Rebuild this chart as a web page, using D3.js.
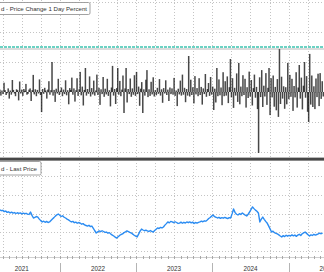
<html>
<head>
<title>Price Change 1 Day Percent / Last Price</title>
<script src="https://d3js.org/d3.v7.min.js"></script>
<style>
body { margin: 0; background: #ffffff; }
svg { display: block; font-family: "Liberation Sans", Arial, sans-serif; }
.grid line { stroke: #c4c4c4; stroke-width: 1; stroke-dasharray: 1,2; }
</style>
</head>
<body>
<svg id="chart" width="324" height="272"></svg>
<script>

// daily % change, sampled every 5 days
const changeStart = new Date(2021, 2, 18);
const changeStepDays = 5;
const changeValues = [
  0.08, -0.12, 0.05, -0.07, 0.31, 0.06, -0.10, -0.04, 0.12, -0.22,
  0.05, -0.09, 0.40, 0.07, -0.05, -0.14, 0.09, 0.06, -0.28, 0.35,
  -0.05, 0.08, -0.13, 0.10, 0.04, 0.27, -0.09, -0.06, 0.08, 0.12,
  -0.30, 0.06, 0.57, -0.08, 0.09, -0.14, 0.07, -0.05, 0.42, -0.10,
  -0.67, 0.10, -0.06, 0.14, 0.05, -0.22, 0.08, 0.36, -0.09, 0.06,
  1.00, -0.12, 0.07, -0.33, 0.11, -0.05, 0.44, -0.10, 0.04, 0.15,
  -0.14, 0.08, -0.07, 0.39, -0.11, 0.06, -0.41, 0.13, 0.07, 0.48,
  -0.09, 0.12, -0.32, 0.06, 0.46, -0.13, 0.09, 0.67, -0.11, 0.18,
  -0.45, 0.07, 0.80, -0.12, 0.10, -0.06, 0.52, -0.15, 0.13, -0.08,
  0.38, -0.12, 0.05, 0.58, -0.10, 0.14, -0.43, 0.09, -0.07, 0.50,
  -0.16, 0.11, -0.08, 0.44, -0.13, 0.06, -0.48, 0.15, 0.87, -0.12,
  0.10, -0.40, 0.13, 0.80, -0.09, 0.37, -0.14, 0.08, 0.55, -0.70,
  0.12, 0.80, -0.35, 0.10, -0.07, 0.45, -0.16, 0.12, -0.09, 0.56,
  -0.13, 0.67, -0.07, 0.18, -0.46, 0.11, 0.33, -0.70, 0.09, -0.12,
  0.41, 0.73, -0.17, 0.09, -0.13, 0.34, -0.08, 0.49, -0.15, 0.06,
  -0.11, 0.14, -0.06, 0.43, -0.12, 0.09, -0.36, 0.13, -0.05, 0.39,
  -0.10, 0.08, -0.30, 0.15, -0.07, 0.12, -0.09, 0.47, -0.13, 0.05,
  -0.47, 0.11, -0.08, 0.38, -0.12, 0.58, -0.09, 0.14, -0.34, 0.10,
  -0.12, 1.20, -0.15, 0.41, -0.10, 0.16, -0.38, 0.53, -0.08, 0.13,
  -0.14, 0.46, -0.10, 0.17, -0.42, 0.12, -0.07, 0.60, -0.16, 0.10,
  0.30, -0.13, 0.50, -0.09, 0.18, -0.60, 0.11, -0.35, 0.80, -0.14,
  0.42, -0.11, 0.15, -0.44, 0.66, -0.14, 0.36, -0.12, 0.52, -0.37,
  0.16, 1.10, -0.18, 0.46, -0.53, 0.14, -0.12, 0.62, -0.33, 0.97,
  -0.41, 0.18, -0.14, 0.56, -0.10, 0.44, -0.52, 0.16, -0.20, 0.68,
  -0.15, 0.40, -0.45, 0.13, 0.58, -0.19, 0.17, -0.57, -2.03, 0.49,
  -0.17, 0.73, -0.50, 0.21, -0.15, 0.63, -0.43, 0.14, 0.80, -0.77,
  0.46, -0.18, 0.55, -0.49, 0.17, -0.61, 0.43, -0.83, 1.43, -0.40,
  0.51, -0.22, 0.19, -0.56, 0.16, -0.41, 0.97, -0.24, 0.57, -0.16,
  0.44, -0.63, 0.20, -0.18, 0.66, -0.52, 0.15, 0.90, -0.22, 0.48,
  -0.58, 0.21, 1.00, -0.19, 0.53, -0.66, -1.00, 1.27, -0.42, 0.55,
  -0.50, 0.19, -0.57, 0.45, -0.17, 0.61, -0.47, 0.63, -0.23, 0.36,
  -0.15
];

// last price, weekly
const priceStart = new Date(2021, 2, 18);
const priceStepDays = 7;
const priceValues = [
  81.9, 81.5, 81.7, 81.0, 81.3, 80.6, 80.9, 80.3, 80.7, 80.2,
  80.5, 80.0, 80.4, 80.1, 80.3, 79.8, 80.2, 79.9, 80.1, 79.7,
  79.5, 80.8, 79.0, 77.6, 77.9, 78.4, 78.1, 77.0, 76.2, 75.5,
  75.9, 75.3, 75.8, 75.2, 75.5, 76.3, 77.1, 77.8, 78.6, 79.3,
  79.7, 79.1, 78.4, 78.8, 78.0, 77.6, 77.0, 76.6, 76.0, 75.5,
  75.8, 75.1, 75.4, 74.8, 75.2, 74.9, 74.3, 74.6, 73.9, 73.6,
  73.3, 73.7, 73.0, 73.3, 72.1, 70.8, 69.6, 70.2, 70.7, 70.3,
  70.8, 70.4, 69.9, 70.1, 69.5, 69.8, 69.0, 68.5, 68.0, 67.4,
  66.9, 67.6, 68.3, 68.8, 69.1, 69.8, 70.2, 70.7, 70.3, 69.9,
  69.6, 69.0, 68.4, 67.9, 67.5, 69.0, 70.6, 71.7, 71.2, 70.8,
  71.1, 70.7, 70.4, 70.9, 70.5, 70.1, 70.9, 71.6, 72.3, 72.0,
  72.6, 72.3, 72.8, 73.8, 74.6, 75.5, 75.0, 75.8, 75.5, 75.1,
  75.6, 75.2, 74.7, 74.9, 75.4, 74.8, 75.3, 74.9, 75.5, 75.1,
  75.5, 75.0, 75.4, 74.7, 75.2, 74.9, 75.3, 75.5, 75.9, 75.6,
  76.1, 75.9, 76.5, 77.3, 77.9, 78.6, 79.2, 78.3, 78.0, 77.6,
  77.9, 77.4, 77.8, 77.5, 77.9, 77.6, 77.3, 77.8, 77.6, 79.8,
  82.4, 80.6, 79.6, 79.2, 79.9, 79.5, 80.3, 79.7, 79.1, 78.7,
  79.6, 80.8, 82.2, 83.5, 82.6, 81.8, 81.2, 80.3, 75.5, 77.0,
  78.1, 76.9, 75.8, 74.9, 73.4, 71.8, 70.1, 70.6, 69.8, 69.4,
  69.1, 68.6, 68.0, 67.5, 68.2, 67.7, 68.4, 67.9, 68.3, 68.0,
  68.6, 68.1, 68.5, 67.8, 68.5, 68.9, 68.3, 69.2, 69.7, 70.1,
  69.4, 68.7, 68.0, 68.6, 68.3, 68.9, 68.5, 68.8, 69.1, 69.5,
  69.2, 69.6
];

const yearLabels = [2021, 2022, 2023, 2024, 2025];
const changeTicks = [-2, -1, 0, 1, 2, 3];
const priceTicks = [60, 70, 80, 90, 100];
const alertLevel = 1.5;
const topLegend = "d - Price Change 1 Day Percent";
const bottomLegend = "d - Last Price";

const svg = d3.select("#chart");
const width = +svg.attr("width");

const topPanel = {top: 0, bottom: 157};
const botPanel = {top: 160, bottom: 257};

const changeData = changeValues.map((v, i) => ({date: d3.timeDay.offset(changeStart, i * changeStepDays), value: v}));
const priceData = priceValues.map((v, i) => ({date: d3.timeDay.offset(priceStart, i * priceStepDays), value: v}));

const x = d3.scaleTime()
    .domain([new Date(2021, 0, 1), new Date(2026, 0, 1)])
    .range([-16, 365]);

const yChange = d3.scaleLinear()
    .domain([-2, 3])
    .range([152, 2]);

const yPrice = d3.scaleLinear()
    .domain([60, 100])
    .range([251, 176]);

svg.append("defs").append("clipPath").attr("id", "clipTop")
    .append("rect").attr("x", 0).attr("y", topPanel.top).attr("width", width).attr("height", topPanel.bottom - topPanel.top);

const quarters = x.ticks(d3.timeMonth.every(3)).filter(d => x(d) >= 0 && x(d) <= width);

// gridlines
const grid = svg.append("g").attr("class", "grid");
[topPanel, botPanel].forEach(p => {
    grid.selectAll(null).data(quarters).join("line")
        .attr("x1", d => Math.round(x(d)) + 0.5).attr("x2", d => Math.round(x(d)) + 0.5)
        .attr("y1", p.top).attr("y2", p.bottom);
});
grid.selectAll(null).data(changeTicks).join("line")
    .attr("x1", 0).attr("x2", width)
    .attr("y1", d => Math.round(yChange(d)) + 0.5).attr("y2", d => Math.round(yChange(d)) + 0.5);
grid.selectAll(null).data(priceTicks).join("line")
    .attr("x1", 0).attr("x2", width)
    .attr("y1", d => Math.round(yPrice(d)) + 0.5).attr("y2", d => Math.round(yPrice(d)) + 0.5);

// alert line
svg.append("line")
    .attr("x1", 0).attr("x2", width)
    .attr("y1", yChange(alertLevel) + 2).attr("y2", yChange(alertLevel) + 2)
    .attr("stroke", "#dcdcdc").attr("stroke-width", 2);
svg.append("line")
    .attr("x1", 0).attr("x2", width)
    .attr("y1", yChange(alertLevel)).attr("y2", yChange(alertLevel))
    .attr("stroke", "#3cc4b0").attr("stroke-width", 1.6)
    .attr("stroke-dasharray", "3,1");

// bars
svg.append("g").attr("clip-path", "url(#clipTop)")
    .selectAll("rect").data(changeData).join("rect")
    .attr("x", d => x(d.date) - 0.75)
    .attr("width", 1.5)
    .attr("y", d => yChange(Math.max(0, d.value)))
    .attr("height", d => Math.abs(yChange(d.value) - yChange(0)))
    .attr("fill", "#000")
    .attr("fill-opacity", 0.72);

// price line
svg.append("path")
    .datum(priceData)
    .attr("fill", "none")
    .attr("stroke", "#2b8cf2")
    .attr("stroke-width", 1.4)
    .attr("stroke-linejoin", "round")
    .attr("d", d3.line().x(d => x(d.date)).y(d => yPrice(d.value)));

// panel divider
svg.append("rect").attr("x", 0).attr("y", 157).attr("width", width).attr("height", 4).attr("fill", "#b8b8b8");
svg.append("rect").attr("x", 0).attr("y", 158).attr("width", width).attr("height", 2.4).attr("fill", "#474747");

// x axis
svg.append("line")
    .attr("x1", 0).attr("x2", width).attr("y1", 257.5).attr("y2", 257.5)
    .attr("stroke", "#d0d0d0");
const months = x.ticks(d3.timeMonth.every(1)).filter(d => x(d) >= 0 && x(d) <= width);
svg.append("g").selectAll("line").data(months).join("line")
    .attr("x1", d => Math.round(x(d)) + 0.5).attr("x2", d => Math.round(x(d)) + 0.5)
    .attr("y1", 256).attr("y2", 259)
    .attr("stroke", "#a8a8a8");
const years = x.ticks(d3.timeYear.every(1)).filter(d => x(d) > 0 && x(d) < width);
svg.append("g").selectAll("line").data(years).join("line")
    .attr("x1", d => Math.round(x(d)) + 0.5).attr("x2", d => Math.round(x(d)) + 0.5)
    .attr("y1", 263).attr("y2", 272)
    .attr("stroke", "#b4b4b4");
svg.append("g").selectAll("text").data(yearLabels).join("text")
    .attr("x", d => x(new Date(d, 6, 1)))
    .attr("y", 271)
    .attr("text-anchor", "middle")
    .attr("font-size", 6.3)
    .attr("fill", "#333")
    .text(d => d);

// legends
const legends = [
    {text: topLegend, y: 2.5, w: 90, h: 12},
    {text: bottomLegend, y: 161.5, w: 41, h: 13.5}
];
legends.forEach(l => {
    svg.append("rect")
        .attr("x", -2).attr("y", l.y)
        .attr("width", l.w + 2).attr("height", l.h)
        .attr("rx", 1.5)
        .attr("fill", "#fff")
        .attr("stroke", "#8a8a8a").attr("stroke-width", 0.8);
    svg.append("text")
        .attr("x", 1).attr("y", l.y + l.h / 2)
        .attr("dominant-baseline", "central")
        .attr("font-size", 6.1)
        .attr("fill", "#333")
        .text(l.text);
});

</script>
</body>
</html>
